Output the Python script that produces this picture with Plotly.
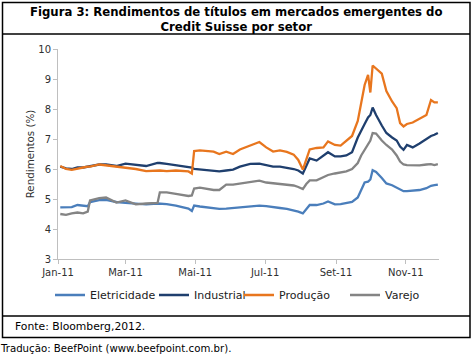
import plotly.graph_objects as go

dates = ["2011-01-03","2011-01-08","2011-01-13","2011-01-18","2011-01-23","2011-01-27","2011-01-29",
         "2011-02-06","2011-02-12","2011-02-21","2011-03-01","2011-03-10","2011-03-19","2011-03-29",
         "2011-03-31","2011-04-06","2011-04-14","2011-04-25","2011-04-28","2011-04-30","2011-05-05",
         "2011-05-17","2011-05-22","2011-05-28","2011-06-03","2011-06-09","2011-06-18","2011-06-26",
         "2011-07-02","2011-07-08","2011-07-14","2011-07-20","2011-07-26","2011-07-30","2011-08-03",
         "2011-08-06","2011-08-09","2011-08-15","2011-08-21","2011-08-25","2011-08-31","2011-09-05",
         "2011-09-10","2011-09-15","2011-09-20","2011-09-23","2011-09-26","2011-09-29","2011-10-01",
         "2011-10-03","2011-10-06","2011-10-11","2011-10-15","2011-10-20","2011-10-24","2011-10-27",
         "2011-10-30","2011-11-02","2011-11-07","2011-11-13","2011-11-19","2011-11-23","2011-11-26",
         "2011-11-29"]

producao = [6.10,6.00,5.97,6.02,6.05,6.08,6.08,6.15,6.12,6.08,6.05,6.00,5.93,5.95,5.95,5.93,5.95,5.92,5.85,
            6.60,6.62,6.58,6.50,6.58,6.50,6.65,6.78,6.90,6.72,6.58,6.62,6.57,6.48,6.30,5.98,6.30,6.65,6.70,
            6.72,6.92,6.80,6.78,6.95,7.10,7.60,8.20,8.80,9.14,8.55,9.45,9.36,9.18,8.60,8.25,8.03,7.53,7.42,
            7.50,7.55,7.67,7.80,8.30,8.22,8.22]
industrial = [6.08,6.02,6.00,6.05,6.05,6.08,6.08,6.15,6.15,6.10,6.18,6.15,6.10,6.20,6.20,6.17,6.12,6.07,6.05,
              6.00,5.98,5.92,5.92,5.95,5.98,6.08,6.17,6.18,6.12,6.08,6.08,6.05,6.00,5.95,5.85,6.10,6.35,6.28,
              6.45,6.56,6.42,6.42,6.45,6.56,7.05,7.30,7.50,7.72,7.80,8.05,7.80,7.45,7.20,7.05,6.95,6.75,6.64,
              6.80,6.72,6.85,7.00,7.10,7.14,7.20]
varejo = [4.50,4.47,4.52,4.55,4.52,4.58,4.95,5.03,5.05,4.88,4.95,4.82,4.85,4.87,5.22,5.22,5.17,5.10,5.12,
          5.35,5.38,5.30,5.30,5.48,5.48,5.52,5.58,5.61,5.55,5.52,5.50,5.48,5.45,5.40,5.33,5.50,5.62,5.62,
          5.72,5.80,5.85,5.88,5.92,6.00,6.20,6.45,6.65,6.85,6.95,7.20,7.18,6.95,6.80,6.65,6.45,6.25,6.15,
          6.13,6.12,6.12,6.15,6.16,6.13,6.16]
eletricidade = [4.72,4.72,4.73,4.80,4.78,4.76,4.90,4.96,4.97,4.90,4.87,4.84,4.82,4.85,4.85,4.83,4.78,4.68,4.60,
                4.78,4.75,4.70,4.67,4.68,4.70,4.70,4.75,4.78,4.76,4.74,4.70,4.67,4.63,4.58,4.52,4.68,4.80,4.80,
                4.85,4.92,4.82,4.83,4.86,4.90,5.05,5.30,5.55,5.58,5.65,5.96,5.90,5.70,5.52,5.46,5.38,5.30,5.26,
                5.26,5.28,5.30,5.36,5.44,5.46,5.48]

series_names = ["Eletricidade", "Industrial", "Produção", "Varejo"]
tick_vals = ["2011-01-01","2011-03-01","2011-05-01","2011-07-01","2011-09-01","2011-11-01"]
tick_text = ["Jan-11","Mar-11","Mai-11","Jul-11","Set-11","Nov-11"]
title_text = "Figura 3: Rendimentos de títulos em mercados emergentes do<br>Credit Suisse por setor"
source_text = "Fonte: Bloomberg,2012."
credit_text = "Tradução: BeefPoint (www.beefpoint.com.br)."

W, H = 473, 355
L, R, T, B = 58, 34, 49, 96
PW, PH = W - L - R, H - T - B

def px(x):
    return (x - L) / PW

def py(y):
    return (H - B - y) / PH

colors = ["#4a7ebb", "#1f3f6e", "#e8761e", "#848484"]
values = [eletricidade, industrial, producao, varejo]
legend_ids = ["legend", "legend2", "legend3", "legend4"]
legend_x = [50, 154, 239, 345]

fig = go.Figure()
for name, vals, col, lid in zip(series_names, values, colors, legend_ids):
    fig.add_trace(go.Scatter(x=dates, y=vals, mode="lines", name=name, showlegend=True,
                             line=dict(color=col, width=2.3), legend=lid))

font_main = "DejaVu Sans, Verdana, sans-serif"
layout_legends = {}
for lid, lx in zip(legend_ids, legend_x):
    layout_legends[lid] = dict(x=px(lx), y=py(295), xanchor="left", yanchor="middle",
                               orientation="h", bgcolor="rgba(0,0,0,0)",
                               font=dict(family=font_main, size=11, color="#222222"),
                               itemwidth=30, tracegroupgap=0)

fig.update_layout(
    width=W, height=H,
    showlegend=True,
    margin=dict(l=L, r=R, t=T, b=B, autoexpand=False),
    paper_bgcolor="white", plot_bgcolor="white",
    font=dict(family=font_main, size=10, color="#404040"),
    xaxis=dict(type="date", range=["2011-01-01", "2011-11-30"], tickvals=tick_vals, ticktext=tick_text,
               showgrid=False, zeroline=False, showline=True, linecolor="#bfbfbf", linewidth=1,
               ticks="outside", ticklen=4, tickcolor="#bfbfbf",
               tickfont=dict(family=font_main, size=10, color="#303030")),
    yaxis=dict(range=[3, 10], dtick=1, showgrid=False, zeroline=False, showline=True,
               linecolor="#bfbfbf", linewidth=1, ticks="outside", ticklen=4, tickcolor="#bfbfbf",
               tickfont=dict(family=font_main, size=10, color="#303030"),
               title=dict(text="Rendimentos (%)", font=dict(family=font_main, size=10.3, color="#303030"),
                          standoff=1)),
    **layout_legends,
)

# frame
fig.add_shape(type="rect", xref="paper", yref="paper", x0=px(2.5), x1=px(470), y0=py(2.5), y1=py(337.5),
              line=dict(color="#000000", width=1.5), fillcolor="rgba(0,0,0,0)")
fig.add_shape(type="line", xref="paper", yref="paper", x0=px(2.5), x1=px(470), y0=py(34), y1=py(34),
              line=dict(color="#000000", width=1.5))
fig.add_shape(type="line", xref="paper", yref="paper", x0=px(2.5), x1=px(470), y0=py(316), y1=py(316),
              line=dict(color="#000000", width=1.5))

fig.add_annotation(text="<b>" + title_text + "</b>", xref="paper", yref="paper", x=px(236.5), y=py(19.5),
                   xanchor="center", yanchor="middle", showarrow=False, align="center",
                   font=dict(family=font_main, size=11.7, color="#000000"))
fig.add_annotation(text=source_text, xref="paper", yref="paper", x=px(13), y=py(326.5),
                   xanchor="left", yanchor="middle", showarrow=False,
                   font=dict(family=font_main, size=10.8, color="#000000"))
fig.add_annotation(text=credit_text, xref="paper", yref="paper", x=px(-2), y=py(348),
                   xanchor="left", yanchor="middle", showarrow=False,
                   font=dict(family=font_main, size=10.2, color="#000000"))

fig.write_html("out.html", config={"displayModeBar": False},
               post_script="document.body.style.margin='0';document.body.style.overflow='hidden';")
